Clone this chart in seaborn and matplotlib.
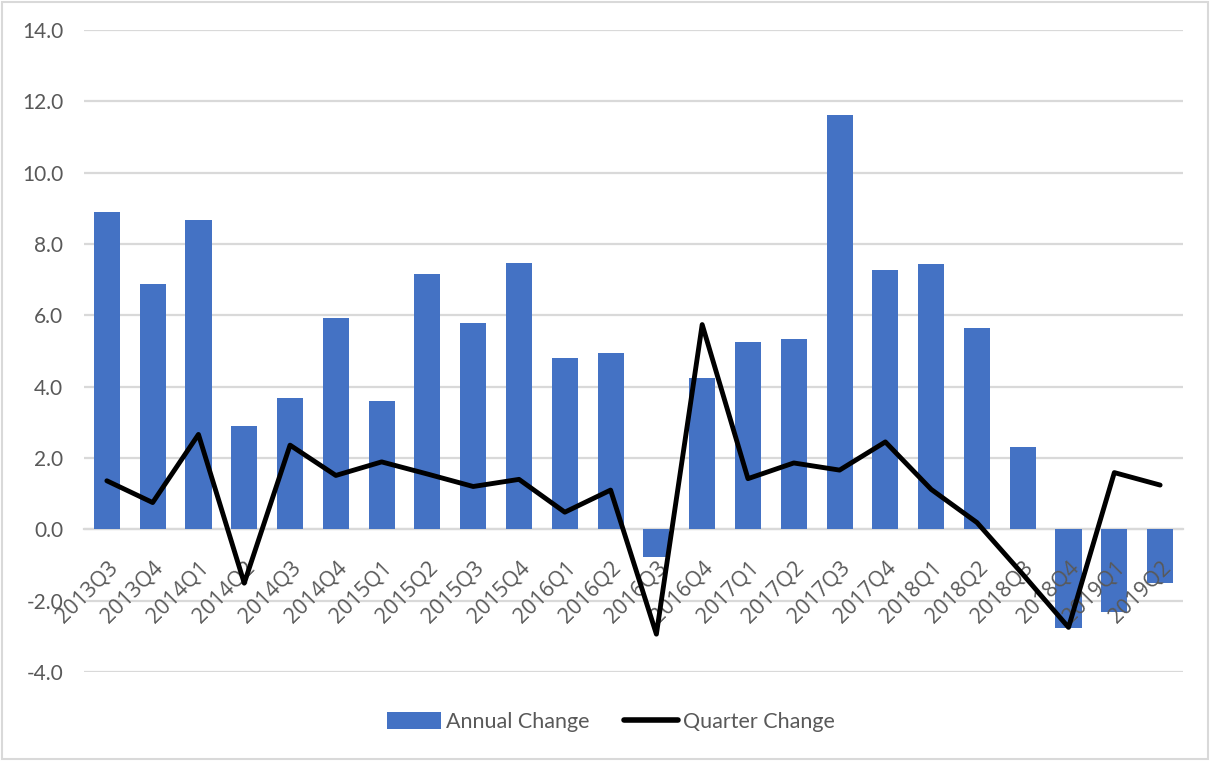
import numpy as np
import pandas as pd
import matplotlib
matplotlib.use("Agg")
import matplotlib.pyplot as plt
from matplotlib.patches import Patch, Rectangle
from matplotlib.lines import Line2D
import seaborn as sns

quarters = ["2013Q3", "2013Q4", "2014Q1", "2014Q2", "2014Q3", "2014Q4",
            "2015Q1", "2015Q2", "2015Q3", "2015Q4", "2016Q1", "2016Q2",
            "2016Q3", "2016Q4", "2017Q1", "2017Q2", "2017Q3", "2017Q4",
            "2018Q1", "2018Q2", "2018Q3", "2018Q4", "2019Q1", "2019Q2"]
annual_change = [8.91, 6.89, 8.68, 2.91, 3.67, 5.93, 3.59, 7.16, 5.78, 7.48,
                 4.80, 4.93, -0.79, 4.23, 5.26, 5.33, 11.62, 7.26, 7.44, 5.64,
                 2.31, -2.78, -2.33, -1.50]
quarter_change = [1.36, 0.75, 2.66, -1.51, 2.36, 1.51, 1.89, 1.55, 1.20, 1.40,
                  0.48, 1.10, -2.94, 5.74, 1.42, 1.86, 1.66, 2.45, 1.12, 0.19,
                  -1.26, -2.75, 1.59, 1.24]
yticks = [-4, -2, 0, 2, 4, 6, 8, 10, 12, 14]

BLUE = "#4472C4"
GRID = "#d9d9d9"
TEXT = "#595959"

sns.set_style("white")
plt.rcParams["font.family"] = ["Lato", "DejaVu Sans"]

df = pd.DataFrame({"quarter": quarters, "annual": annual_change,
                   "qoq": quarter_change})

fig = plt.figure(figsize=(12.10, 7.61), dpi=100)
ax = fig.add_axes([0.0694, 0.117, 0.9083, 0.8436])

sns.barplot(data=df, x="quarter", y="annual", color=BLUE, saturation=1,
            width=0.57, edgecolor="none", ax=ax, zorder=2)
sns.pointplot(data=df, x="quarter", y="qoq", color="black", markers="",
              linewidth=3.5, errorbar=None, ax=ax, zorder=4)

ax.set_ylim(-4, 14)
ax.set_yticks(yticks)
ax.set_yticklabels([f"{v:.1f}" for v in yticks], fontsize=15, color=TEXT)
ax.yaxis.grid(True, color=GRID, linewidth=1.6, zorder=0)
ax.set_axisbelow(True)
ax.tick_params(axis="y", length=0, pad=15)

for s in ["top", "right", "left"]:
    ax.spines[s].set_visible(False)
ax.spines["bottom"].set_position(("data", 0))
ax.spines["bottom"].set_color(GRID)
ax.spines["bottom"].set_linewidth(1.6)
ax.spines["bottom"].set_zorder(1)
ax.xaxis.set_zorder(3)
ax.tick_params(axis="x", length=0, pad=20)
for lab in ax.get_xticklabels():
    lab.set_rotation(45)
    lab.set_ha("right")
    lab.set_va("top")
    lab.set_rotation_mode("anchor")
    lab.set_fontsize(15.5)
    lab.set_fontfamily("Open Sans")
    lab.set_color(TEXT)
ax.set_xlabel("")
ax.set_ylabel("")
ax.set_xlim(-0.5, len(quarters) - 0.5)

handles = [Patch(facecolor=BLUE, edgecolor="none", label="Annual Change"),
           Line2D([0], [0], color="black", linewidth=4, label="Quarter Change")]
leg = fig.legend(handles=handles, loc="center", bbox_to_anchor=(0.505, 0.051),
                 ncol=2, frameon=False, fontsize=15.5, handlelength=2.5,
                 handletextpad=0.25, columnspacing=1.6, handleheight=0.8)
for t in leg.get_texts():
    t.set_color(TEXT)

fig.patches.append(Rectangle((0.002, 0.003), 0.996, 0.994, transform=fig.transFigure,
                             fill=False, edgecolor=GRID, linewidth=1.5))

fig.savefig("out.png", dpi=100)
